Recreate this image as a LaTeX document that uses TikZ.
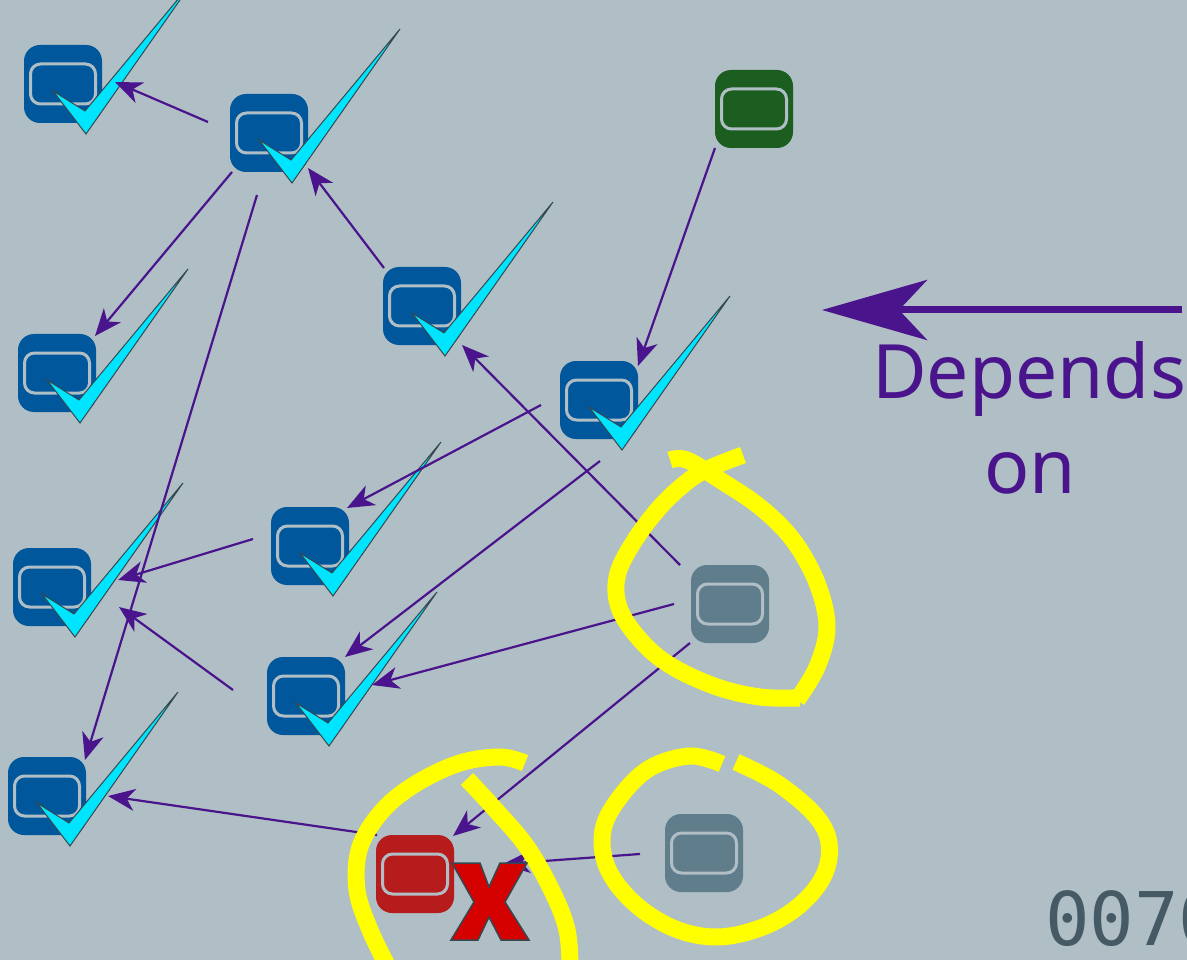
\documentclass[tikz,border=0pt]{standalone}
\usepackage{fontspec}
\usetikzlibrary{arrows.meta}
\newfontfamily\labelfont{Noto Sans}
\newfontfamily\codefont{DejaVu Sans Mono}
\definecolor{bg}{HTML}{B0BEC5}
\definecolor{bluebox}{HTML}{01579B}
\definecolor{greenbox}{HTML}{1B5E20}
\definecolor{redbox}{HTML}{B71C1C}
\definecolor{greybox}{HTML}{607D8B}
\definecolor{innerc}{HTML}{B0BEC5}
\definecolor{tickc}{HTML}{00E5FF}
\definecolor{outl}{HTML}{37474F}
\definecolor{xred}{HTML}{D50000}
\definecolor{purp}{HTML}{4A148C}
\definecolor{codec}{HTML}{455A64}
\definecolor{yel}{HTML}{FFFF00}
\tikzset{
  box/.style={rounded corners=16pt, minimum width=78pt, minimum height=78pt, inner sep=0pt,
    path picture={\draw[line width=3pt, draw=innerc, rounded corners=10pt]
      ([xshift=-32.5pt,yshift=-20pt]path picture bounding box.center) rectangle
      ([xshift=32.5pt,yshift=20pt]path picture bounding box.center);}},
  dep/.style={draw=purp, line width=2.2pt, -{Stealth[length=27pt,width=22pt,inset=8pt]}},
  yring/.style={draw=yel, line width=17pt, line cap=butt},
  tick/.pic={\filldraw[fill=tickc, draw=outl, line width=1pt]
     (-10,7) -- (23,50) -- (131,-104) -- (22,27) -- cycle;}
}
\begin{document}
\begin{tikzpicture}[x=1pt,y=-1pt]
\useasboundingbox (0,0) rectangle (1187,960);
\fill[bg] (0,0) rectangle (1187,960);
\clip (0,0) rectangle (1187,960);

% nodes
\node[box, fill=bluebox] (N1) at (63,84) {};
\node[box, fill=bluebox] (N2) at (269,133) {};
\node[box, fill=greenbox] (N3) at (754,109) {};
\node[box, fill=bluebox] (N4) at (422,306) {};
\node[box, fill=bluebox] (N5) at (57,373) {};
\node[box, fill=bluebox] (N6) at (599,400) {};
\node[box, fill=bluebox] (N7) at (310,546) {};
\node[box, fill=bluebox] (N8) at (52,587) {};
\node[box, fill=greybox] (N9) at (730,604) {};
\node[box, fill=bluebox] (N10) at (306,696) {};
\node[box, fill=bluebox] (N11) at (47,796) {};
\node[box, fill=redbox] (N12) at (415,874) {};
\node[box, fill=greybox] (N13) at (704,853) {};

% ticks
\foreach \n in {N1,N2,N4,N5,N6,N7,N8,N10,N11} {\pic at (\n.center) {tick};}

% edges
\draw[dep] ([shift={(-61,-11)}]N2.center) -- ([shift={(52,-2)}]N1.center);
\draw[dep] ([shift={(-37,39)}]N2.center) -- ([shift={(38,-37)}]N5.center);
\draw[dep] ([shift={(-12,62)}]N2.center) -- ([shift={(38,-36)}]N11.center);
\draw[dep] ([shift={(-38,-38)}]N4.center) -- ([shift={(39,35)}]N2.center);
\draw[dep] ([shift={(-39,39)}]N3.center) -- ([shift={(39,-34)}]N6.center);
\draw[dep] ([shift={(-58,5)}]N6.center) -- ([shift={(37,-38)}]N7.center);
\draw[dep] ([shift={(1,61)}]N6.center) -- ([shift={(39,-39)}]N10.center);
\draw[dep] ([shift={(-50,-39)}]N9.center) -- ([shift={(40,39)}]N4.center);
\draw[dep] ([shift={(-56,0)}]N9.center) -- ([shift={(66,-11)}]N10.center);
\draw[dep] ([shift={(-40,39)}]N9.center) -- ([shift={(38,-38)}]N12.center);
\draw[dep] ([shift={(-57,-7)}]N7.center) -- ([shift={(66,-7)}]N8.center);
\draw[dep] ([shift={(-73,-6)}]N10.center) -- ([shift={(67,20)}]N8.center);
\draw[dep] ([shift={(-38,-39)}]N12.center) -- ([shift={(61,0)}]N11.center);
\draw[dep] ([shift={(-64,1)}]N13.center) -- ([shift={(88,-10)}]N12.center);

% yellow rings
\draw[yring] plot[smooth, tension=0.6] coordinates {(743,455) (710,468) (688,481) (660,507) (633,543) (617,577) (620,610) (643,643) (673,667) (717,687) (760,697) (800,698)};
\draw[yring] plot[smooth, tension=0.6] coordinates {(797,700) (817,667) (827,627) (817,583) (793,540) (760,507) (720,480) (687,460) (670,460)};
\draw[yring] plot[smooth, tension=0.6] coordinates {(525,763) (500,757) (460,763) (417,783) (383,810) (360,847) (357,890) (370,930) (387,965)};
\draw[yring] plot[smooth, tension=0.6] coordinates {(467,779) (493,807) (527,847) (553,893) (567,930) (570,965)};
\draw[yring] plot[smooth, tension=0.6] coordinates {(736,762) (777,783) (815,815) (829,843) (824,875) (800,905) (763,927) (717,937) (673,928) (633,902) (607,867) (603,830) (620,797) (650,768) (690,756) (722,764)};

% X mark
\filldraw[fill=xred, draw=outl, line width=1.5pt, line join=miter]
  (452,863) -- (480,863) -- (489,887) -- (500,863) -- (527,863) -- (505,902) --
  (529,940) -- (501,940) -- (489,917) -- (478,940) -- (451,940) -- (474,902) -- cycle;

% legend
\coordinate (legS) at (1182,310);
\coordinate (legE) at (822,310);
\draw[draw=purp, line width=7pt, -{Stealth[length=105pt,width=60pt,inset=28pt]}] (legS) -- (legE);
\node[anchor=base, text=purp, font=\labelfont\fontsize{75}{80}\selectfont, inner sep=0pt] (dep1) at (1029,398) {Depends};
\node[anchor=base, text=purp, font=\labelfont\fontsize{75}{80}\selectfont, inner sep=0pt] (dep2) at (1030,493) {on};
\node[anchor=base west, text=codec, font=\codefont\fontsize{74}{74}\selectfont, inner sep=0pt] (code) at (1045,945) {0070};
\end{tikzpicture}
\end{document}
